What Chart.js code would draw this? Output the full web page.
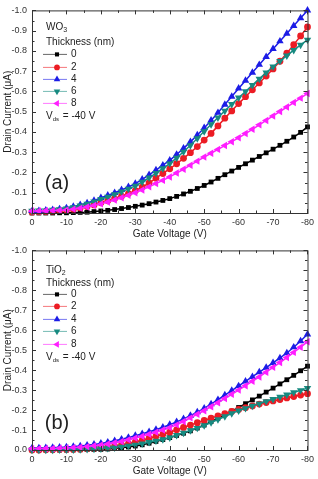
<!DOCTYPE html>
<html>
<head>
<meta charset="utf-8">
<script src="https://cdn.jsdelivr.net/npm/chart.js@4.4.0/dist/chart.umd.min.js"></script>
<style>
  html, body { margin: 0; padding: 0; background: #fff; }
  #wrap { position: relative; width: 318px; height: 479px; }
  canvas { position: absolute; left: 0; }
</style>
</head>
<body>
<div id="wrap">
  <canvas id="chartA" width="318" height="240" style="top:0"></canvas>
  <canvas id="chartB" width="318" height="239" style="top:240px"></canvas>
</div>
<script>
// gate voltage (V), same for every curve
const gateV = [0,-2,-4,-6,-8,-10,-12,-14,-16,-18,-20,-22,-24,-26,-28,-30,-32,-34,-36,-38,-40,
  -42,-44,-46,-48,-50,-52,-54,-56,-58,-60,-62,-64,-66,-68,-70,-72,-74,-76,-78,-80];

const thickness = ["0", "2", "4", "6", "8"];

// drain current magnitude (uA), plotted as negative values
// (a) WO3
const wo3_0 = [0,0,0,0,0.001,0.001,0.002,0.003,0.004,0.007,0.01,0.013,0.017,0.022,0.027,0.033,0.039,0.046,0.054,0.062,0.071,
  0.082,0.094,0.107,0.121,0.136,0.153,0.171,0.189,0.207,0.225,0.243,0.261,0.279,0.297,0.315,0.334,0.354,0.375,0.398,0.425];
const wo3_2 = [0.005,0.006,0.007,0.009,0.012,0.015,0.019,0.025,0.032,0.04,0.05,0.06,0.071,0.083,0.096,0.11,0.128,0.148,0.172,0.195,0.218,
  0.243,0.27,0.298,0.328,0.36,0.393,0.43,0.468,0.504,0.54,0.574,0.608,0.642,0.676,0.711,0.749,0.789,0.831,0.874,0.918];
const wo3_4 = [0.01,0.011,0.013,0.016,0.02,0.025,0.032,0.04,0.049,0.061,0.075,0.087,0.1,0.114,0.129,0.145,0.166,0.188,0.212,0.236,0.26,
  0.289,0.319,0.351,0.385,0.42,0.457,0.495,0.535,0.575,0.615,0.654,0.693,0.732,0.771,0.81,0.848,0.886,0.924,0.962,1.0];
const wo3_6 = [0.01,0.011,0.012,0.015,0.018,0.022,0.028,0.036,0.045,0.056,0.068,0.08,0.092,0.105,0.119,0.134,0.153,0.174,0.197,0.22,0.244,
  0.272,0.302,0.334,0.368,0.403,0.437,0.471,0.504,0.537,0.569,0.6,0.631,0.662,0.693,0.722,0.75,0.777,0.804,0.83,0.855];
const wo3_8 = [0.01,0.01,0.011,0.012,0.013,0.015,0.019,0.024,0.03,0.037,0.045,0.054,0.064,0.075,0.087,0.1,0.114,0.129,0.145,0.161,0.178,
  0.197,0.216,0.236,0.256,0.276,0.295,0.314,0.333,0.352,0.371,0.392,0.413,0.435,0.457,0.479,0.501,0.523,0.545,0.567,0.59];

// (b) TiO2
const tio2_0 = [0,0,0,0,0,0,0.001,0.001,0.002,0.002,0.003,0.005,0.008,0.011,0.015,0.02,0.026,0.034,0.043,0.052,0.062,
  0.073,0.084,0.096,0.11,0.125,0.142,0.159,0.177,0.195,0.213,0.232,0.251,0.27,0.29,0.31,0.331,0.352,0.374,0.397,0.42];
const tio2_2 = [0,0,0.001,0.001,0.002,0.002,0.003,0.004,0.006,0.008,0.01,0.014,0.019,0.025,0.032,0.04,0.049,0.059,0.069,0.079,0.089,
  0.101,0.113,0.125,0.137,0.148,0.16,0.171,0.182,0.193,0.203,0.212,0.221,0.23,0.238,0.246,0.253,0.261,0.268,0.275,0.282];
const tio2_4 = [0.01,0.01,0.011,0.012,0.013,0.015,0.017,0.02,0.024,0.028,0.033,0.039,0.046,0.054,0.063,0.072,0.081,0.091,0.102,0.114,0.127,
  0.141,0.156,0.172,0.19,0.209,0.23,0.252,0.275,0.298,0.321,0.344,0.367,0.39,0.413,0.437,0.461,0.486,0.515,0.546,0.58];
const tio2_6 = [0,0,0,0,0.001,0.001,0.002,0.003,0.004,0.005,0.007,0.009,0.012,0.016,0.021,0.026,0.032,0.039,0.046,0.053,0.062,
  0.074,0.086,0.098,0.11,0.123,0.138,0.153,0.168,0.183,0.197,0.209,0.221,0.232,0.244,0.255,0.266,0.277,0.288,0.299,0.31];
const tio2_8 = [0.007,0.007,0.008,0.008,0.009,0.01,0.012,0.014,0.017,0.021,0.025,0.03,0.036,0.043,0.051,0.06,0.069,0.079,0.089,0.1,0.112,
  0.126,0.143,0.161,0.179,0.197,0.217,0.237,0.258,0.279,0.3,0.322,0.344,0.366,0.39,0.414,0.438,0.463,0.489,0.515,0.542];

const colors = ['#000000', '#ec1c24', '#1c1ce6', '#178a80', '#ff1eff'];
const styles = [
  { pointStyle: 'rect', rotation: 0, r: 3.4 },
  { pointStyle: 'circle', rotation: 0, r: 3.4 },
  { pointStyle: 'triangle', rotation: 0, r: 4.3 },
  { pointStyle: 'triangle', rotation: 180, r: 4.3 },
  { pointStyle: 'triangle', rotation: 270, r: 4.3 }
];

const FONT = 'Liberation Sans, Arial, sans-serif';

function buildSets(list) {
  return list.map((arr, i) => ({
    label: thickness[i],
    data: gateV.map((v, k) => ({ x: v, y: -arr[k] })),
    borderColor: colors[i],
    backgroundColor: colors[i],
    borderWidth: 1.5,
    pointStyle: styles[i].pointStyle,
    rotation: styles[i].rotation,
    pointRadius: styles[i].r,
    pointBorderWidth: 0,
    order: 4 - i,
    clip: false
  }));
}

// frame with inward ticks on all four sides
const framePlugin = {
  id: 'frame',
  afterDatasetsDraw(chart) {
    const ctx = chart.ctx, a = chart.chartArea;
    const xs = chart.scales.x, ys = chart.scales.y;
    ctx.save();
    ctx.strokeStyle = '#333';
    ctx.lineWidth = 1;
    ctx.strokeRect(a.left + 0.5, a.top + 0.5, a.right - a.left, a.bottom - a.top);
    ctx.beginPath();
    for (let v = 0; v >= -80; v -= 5) {
      const px = Math.round(xs.getPixelForValue(v)) + 0.5;
      const len = (v % 10 === 0) ? 4 : 2.5;
      ctx.moveTo(px, a.bottom); ctx.lineTo(px, a.bottom - len);
      ctx.moveTo(px, a.top); ctx.lineTo(px, a.top + len);
    }
    for (let k = 0; k <= 20; k++) {
      const py = Math.round(ys.getPixelForValue(-k * 0.05)) + 0.5;
      const len = (k % 2 === 0) ? 4 : 2.5;
      ctx.moveTo(a.left, py); ctx.lineTo(a.left + len, py);
      ctx.moveTo(a.right, py); ctx.lineTo(a.right - len, py);
    }
    ctx.stroke();
    ctx.restore();
  }
};

// legend block and panel letter
const notePlugin = {
  id: 'note',
  afterDraw(chart) {
    const o = chart.options.plugins.note;
    const ctx = chart.ctx, a = chart.chartArea;
    const x0 = 46;
    ctx.save();
    ctx.fillStyle = '#222';
    ctx.textBaseline = 'middle';
    ctx.textAlign = 'left';
    // material name with subscript
    ctx.font = '10px ' + FONT;
    ctx.fillText(o.name, x0, a.top + o.nameY);
    const w = ctx.measureText(o.name).width;
    ctx.font = '7px ' + FONT;
    ctx.fillText(o.sub, x0 + w, a.top + o.nameY + 3);
    ctx.font = '10px ' + FONT;
    ctx.fillText('Thickness (nm)', x0, a.top + o.headY);
    chart.data.datasets.forEach((ds, i) => {
      const y = a.top + o.rowY[i];
      ctx.strokeStyle = ds.borderColor;
      ctx.globalAlpha = 0.6;
      ctx.lineWidth = 1;
      ctx.beginPath();
      ctx.moveTo(43, y); ctx.lineTo(67, y);
      ctx.stroke();
      ctx.globalAlpha = 1;
      ctx.fillStyle = ds.backgroundColor;
      Chart.helpers.drawPoint(ctx, { pointStyle: ds.pointStyle, rotation: ds.rotation, radius: ds.pointRadius - 0.5, borderWidth: 0 }, 57, y);
      ctx.fillStyle = '#222';
      ctx.font = '10px ' + FONT;
      ctx.fillText(ds.label, 71, y);
    });
    const vy = a.top + o.vdsY;
    ctx.fillText('V', x0, vy);
    const vw = ctx.measureText('V').width;
    ctx.font = '6px ' + FONT;
    ctx.fillText('ds', x0 + vw, vy + 3);
    const dw = ctx.measureText('ds').width;
    ctx.font = '10px ' + FONT;
    ctx.fillText(' = -40 V', x0 + vw + dw + 1, vy);
    ctx.font = '20px ' + FONT;
    ctx.textAlign = 'center';
    ctx.fillText(o.letter, 57, a.top + 173);
    ctx.restore();
  }
};

function makePanel(id, list, note, padTop, xHeight, titlePad) {
  return new Chart(document.getElementById(id), {
    type: 'line',
    data: { datasets: buildSets(list) },
    options: {
      responsive: false,
      animation: false,
      layout: { padding: { left: 2, right: 10, top: padTop, bottom: 0 } },
      plugins: {
        legend: { display: false },
        tooltip: { enabled: false },
        note: note
      },
      scales: {
        x: {
          type: 'linear',
          min: -80, max: 0,
          reverse: true,
          afterFit: (s) => { s.height = xHeight; },
          grid: { display: false, drawTicks: false },
          border: { display: false },
          ticks: {
            stepSize: 10, maxRotation: 0, autoSkip: false, padding: 4,
            color: '#333', font: { family: FONT, size: 9 },
            callback: (v) => String(v)
          },
          title: {
            display: true, text: 'Gate Voltage (V)', color: '#222',
            font: { family: FONT, size: 10 },
            padding: { top: 0, bottom: titlePad }
          }
        },
        y: {
          type: 'linear',
          min: -1, max: 0,
          reverse: true,
          afterFit: (s) => { s.width = 30; },
          grid: { display: false, drawTicks: false },
          border: { display: false },
          ticks: {
            stepSize: 0.1, padding: 5,
            color: '#333', font: { family: FONT, size: 9 },
            callback: (v) => Number(v).toFixed(1)
          },
          title: {
            display: true, text: 'Drain Current (\u03BCA)', color: '#222',
            font: { family: FONT, size: 10 },
            padding: { top: 0, bottom: 0 }
          }
        }
      }
    },
    plugins: [framePlugin, notePlugin]
  });
}

makePanel('chartA', [wo3_0, wo3_2, wo3_4, wo3_6, wo3_8],
  { name: 'WO', sub: '3', letter: '(a)', nameY: 17, headY: 32, rowY: [44, 57, 69, 81, 93], vdsY: 106 },
  10, 27, 0);

makePanel('chartB', [tio2_0, tio2_2, tio2_4, tio2_6, tio2_8],
  { name: 'TiO', sub: '2', letter: '(b)', nameY: 20, headY: 33, rowY: [44, 56, 69, 81, 94], vdsY: 107 },
  7, 29, 2);
</script>
</body>
</html>
